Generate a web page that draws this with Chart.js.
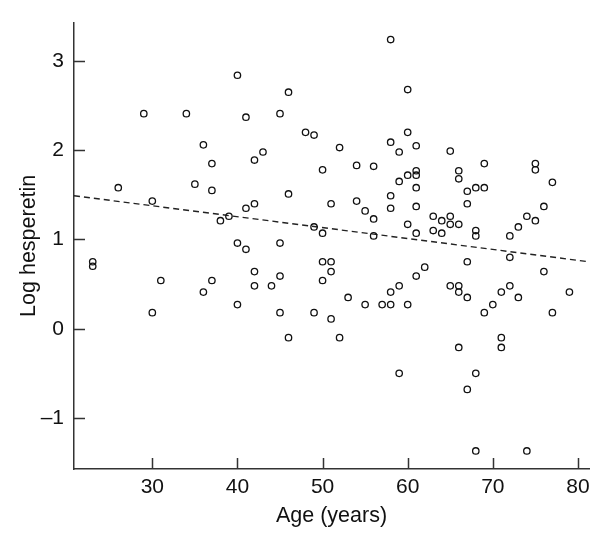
<!DOCTYPE html>
<html>
<head>
<meta charset="utf-8">
<script src="https://cdn.jsdelivr.net/npm/chart.js@4/dist/chart.umd.min.js"></script>
<style>
  body { margin: 0; background: #fff; }
</style>
</head>
<body>
<canvas id="chart" width="601" height="533"></canvas>
<script>
// age (years) and log hesperetin
const ages = [
  23, 23, 26, 29, 30, 30, 31, 34, 35, 36, 36, 37, 37, 37, 38, 39,
  40, 40, 40, 41, 41, 41, 42, 42, 42, 42, 43, 44, 45, 45, 45, 45,
  46, 46, 46, 48, 49, 49, 49, 50, 50, 50, 50, 51, 51, 51, 51, 52, 52,
  53, 54, 54, 55, 55, 56, 56, 56, 57, 58, 58, 58, 58, 58, 58,
  59, 59, 59, 59, 60, 60, 60, 60, 60, 61, 61, 61, 61, 61, 61, 61,
  62, 63, 63, 64, 64, 65, 65, 65, 65, 66, 66, 66, 66, 66, 66,
  67, 67, 67, 67, 67, 68, 68, 68, 68, 68, 69, 69, 69, 70, 71, 71, 71,
  72, 72, 72, 73, 73, 74, 74, 75, 75, 75, 76, 76, 77, 77, 79
];
const logHesperetin = [
  0.75, 0.70, 1.58, 2.41, 1.43, 0.18, 0.54, 2.41, 1.62, 2.06, 0.41, 1.85, 1.55, 0.54, 1.21, 1.26,
  2.84, 0.96, 0.27, 2.37, 1.35, 0.89, 1.89, 1.40, 0.64, 0.48, 1.98, 0.48, 2.41, 0.96, 0.59, 0.18,
  2.65, 1.51, -0.10, 2.20, 2.17, 1.14, 0.18, 1.78, 1.07, 0.75, 0.54, 1.40, 0.75, 0.64, 0.11, 2.03, -0.10,
  0.35, 1.83, 1.43, 1.32, 0.27, 1.82, 1.23, 1.04, 0.27, 3.24, 2.09, 1.49, 1.35, 0.41, 0.27,
  1.98, 1.65, 0.48, -0.50, 2.68, 2.20, 1.72, 1.17, 0.27, 2.05, 1.77, 1.72, 1.58, 1.37, 1.07, 0.59,
  0.69, 1.26, 1.10, 1.21, 1.07, 1.99, 1.26, 1.17, 0.48, 1.77, 1.68, 1.17, 0.48, 0.41, -0.21,
  1.54, 1.40, 0.75, 0.35, -0.68, 1.58, 1.10, 1.04, -0.50, -1.37, 1.85, 1.58, 0.18, 0.27, 0.41, -0.10, -0.21,
  1.04, 0.80, 0.48, 1.14, 0.35, 1.26, -1.37, 1.85, 1.78, 1.21, 1.37, 0.64, 1.64, 0.18, 0.41
];

// ends of the dashed fit line
const fitAges = [20.8, 81.3];
const fitValues = [1.49, 0.75];

const xTicks = [30, 40, 50, 60, 70, 80];
const yTicks = [-1, 0, 1, 2, 3];

const ink = '#111';
const axisColor = '#333';
const tickFont = { family: '"Liberation Sans", Arial, sans-serif', size: 21 };
const titleFont = { family: '"Liberation Sans", Arial, sans-serif', size: 21.5 };

// tick marks point into the plot in the original
const innerTicks = {
  id: 'innerTicks',
  afterDatasetsDraw(chart) {
    const { ctx, chartArea, scales } = chart;
    ctx.save();
    ctx.strokeStyle = axisColor;
    ctx.lineWidth = 1.5;
    ctx.beginPath();
    scales.x.ticks.forEach(t => {
      const px = Math.round(scales.x.getPixelForValue(t.value)) + 0.5;
      ctx.moveTo(px, chartArea.bottom);
      ctx.lineTo(px, chartArea.bottom - 11);
    });
    scales.y.ticks.forEach(t => {
      const py = Math.round(scales.y.getPixelForValue(t.value)) + 0.5;
      ctx.moveTo(chartArea.left, py);
      ctx.lineTo(chartArea.left + 11, py);
    });
    ctx.stroke();
    ctx.restore();
  }
};

new Chart(document.getElementById('chart'), {
  type: 'scatter',
  data: {
    datasets: [
      {
        data: ages.map((a, i) => ({ x: a, y: logHesperetin[i] })),
        pointStyle: 'circle',
        pointRadius: 3.2,
        pointBorderWidth: 1.3,
        pointBorderColor: '#111',
        pointBackgroundColor: 'rgba(0,0,0,0)'
      },
      {
        type: 'line',
        data: fitAges.map((a, i) => ({ x: a, y: fitValues[i] })),
        borderColor: '#222',
        borderWidth: 1.4,
        borderDash: [6, 4],
        pointRadius: 0,
        fill: false
      }
    ]
  },
  options: {
    responsive: false,
    animation: false,
    layout: { padding: { top: 17, right: 12, left: 0, bottom: 0 } },
    plugins: { legend: { display: false }, tooltip: { enabled: false } },
    scales: {
      x: {
        type: 'linear',
        min: 20.8,
        max: 81.3,
        afterBuildTicks: s => { s.ticks = xTicks.map(v => ({ value: v })); },
        afterFit: s => { s.height = 64; },
        grid: { display: true, drawOnChartArea: false, drawTicks: false },
        border: { display: true, color: axisColor, width: 1.5 },
        ticks: { color: ink, font: tickFont, padding: 6, maxRotation: 0 },
        title: { display: true, text: 'Age (years)', color: ink, font: titleFont, padding: { top: 4, bottom: 4 } }
      },
      y: {
        type: 'linear',
        min: -1.572,
        max: 3.43,
        afterBuildTicks: s => { s.ticks = yTicks.map(v => ({ value: v })); },
        afterFit: s => { s.width = 74; },
        grid: { display: true, drawOnChartArea: false, drawTicks: false },
        border: { display: true, color: axisColor, width: 1.5 },
        ticks: {
          color: ink,
          font: tickFont,
          padding: 10,
          callback: v => (v < 0 ? '\u2013' + Math.abs(v) : String(v))
        },
        title: { display: true, text: 'Log hesperetin', color: ink, font: titleFont, padding: { top: 16, bottom: 0 } }
      }
    }
  },
  plugins: [innerTicks]
});
</script>
</body>
</html>
